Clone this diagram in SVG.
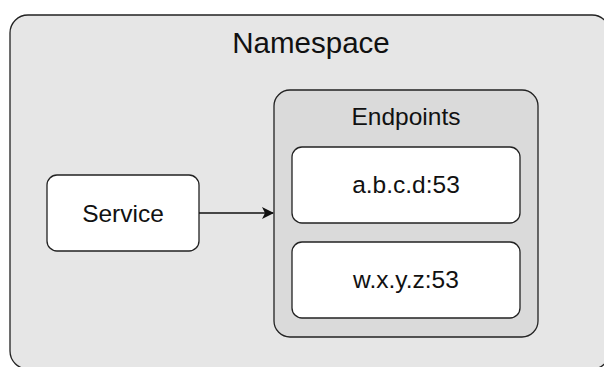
<svg xmlns="http://www.w3.org/2000/svg" width="604" height="367" viewBox="0 0 604 367">
<style>
.box{stroke:#222;stroke-width:1.3}
.t{font-family:"Liberation Sans",Arial,sans-serif;fill:#111;text-anchor:middle}
</style>
<defs>
<marker id="ah" markerWidth="12" markerHeight="12" refX="11" refY="6" orient="auto" markerUnits="userSpaceOnUse">
<path d="M0,0 L12,6 L0,12 L3,6 Z" fill="#111"/>
</marker>
</defs>
<rect width="604" height="367" fill="#fff"/>
<g id="namespace">
<rect class="box" x="10" y="15" width="600" height="354" rx="18" fill="#e6e6e6"/>
<text class="t" x="311" y="53" font-size="29.5">Namespace</text>
</g>
<g id="endpoints">
<rect class="box" x="274" y="90" width="264" height="247" rx="16" fill="#dadada"/>
<text class="t" x="406" y="125" font-size="24.5">Endpoints</text>
</g>
<g id="ep1">
<rect class="box" x="292" y="147" width="228" height="76" rx="10" fill="#fff"/>
<text class="t" x="406" y="193" font-size="24.5">a.b.c.d:53</text>
</g>
<g id="ep2">
<rect class="box" x="292" y="242" width="228" height="76" rx="10" fill="#fff"/>
<text class="t" x="406" y="288" font-size="24.5">w.x.y.z:53</text>
</g>
<g id="service">
<rect class="box" x="47" y="175" width="152" height="76" rx="10" fill="#fff"/>
<text class="t" x="123" y="222" font-size="24.5">Service</text>
</g>
<g id="connectors">
<line x1="199" y1="213" x2="273" y2="213" stroke="#111" stroke-width="1.3" marker-end="url(#ah)"/>
</g>
</svg>
